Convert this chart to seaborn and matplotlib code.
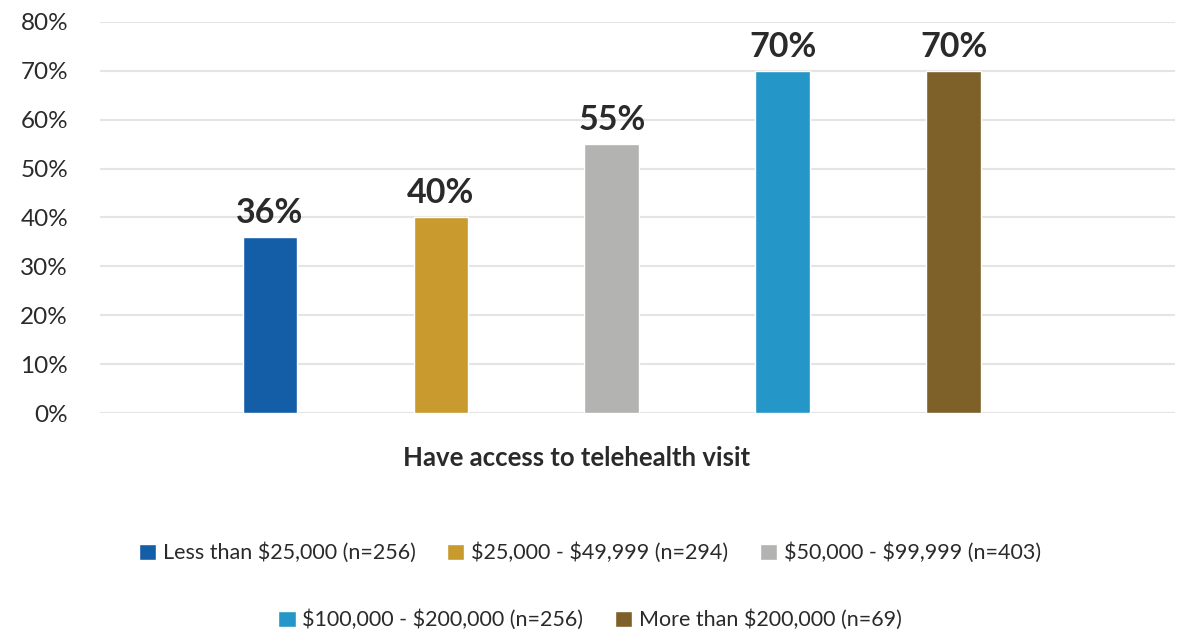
import matplotlib
matplotlib.use("Agg")
import matplotlib.pyplot as plt
import seaborn as sns
import pandas as pd

# Survey data: share of respondents with telehealth access, by household income
measure = ["Have access to telehealth visit"] * 5
income_groups = [
    "Less than $25,000 (n=256)",
    "$25,000 - $49,999 (n=294)",
    "$50,000 - $99,999 (n=403)",
    "$100,000 - $200,000 (n=256)",
    "More than $200,000 (n=69)",
]
shares = [36, 40, 55, 70, 70]
colors = ["#145EA8", "#C99A2E", "#B3B3B2", "#2596C8", "#7E6128"]
y_ticks = [0, 10, 20, 30, 40, 50, 60, 70, 80]

TEXT = "#2a2a2a"

sns.set_theme(style="white")
plt.rcParams["font.family"] = ["Lato", "DejaVu Sans"]
plt.rcParams["text.parse_math"] = False

df = pd.DataFrame({"measure": measure, "group": income_groups, "share": shares})

W, H = 1191, 634
fig = plt.figure(figsize=(W / 100, H / 100), dpi=100)
ax = fig.add_axes([100 / W, 1 - 413 / H, 1075 / W, 391 / H])

sns.barplot(
    data=df, x="measure", y="share", hue="group", hue_order=income_groups,
    palette=dict(zip(income_groups, colors)), width=0.8, gap=0.68,
    saturation=1, errorbar=None, ax=ax, legend=True,
)

# value labels above each bar
for cont in ax.containers:
    ax.bar_label(cont, fmt="%.0f%%", padding=6, fontsize=24.5,
                 fontweight="bold", color=TEXT)

ax.set_ylim(0, 80)
ax.set_xlim(-0.479, 0.527)
ax.set_yticks(y_ticks)
ax.set_yticklabels([f"{t}%" for t in y_ticks], fontsize=17.5, color=TEXT)
ax.tick_params(axis="y", length=0, pad=23)
ax.set_xticks([])
ax.set_xlabel("")
ax.set_ylabel("")
ax.yaxis.grid(True, color="#E4E4E4", linewidth=1.5)
ax.set_axisbelow(True)
for s in ax.spines.values():
    s.set_visible(False)

ax.text(0.443, -45 / 391, measure[0], transform=ax.transAxes,
        ha="center", va="center", fontsize=18.5, fontweight="bold", color=TEXT)

handles, labels = ax.get_legend_handles_labels()
ax.get_legend().remove()

leg_kw = dict(loc="center", frameon=False, fontsize=15.5, labelcolor=TEXT,
              handlelength=0.8, handleheight=0.8, handletextpad=0.32,
              columnspacing=1.45)
fig.legend(handles[:3], labels[:3], ncol=3,
           bbox_to_anchor=(590 / W, 1 - 553 / H), **leg_kw)
fig.legend(handles[3:], labels[3:], ncol=2,
           bbox_to_anchor=(590 / W, 1 - 620 / H), **leg_kw)

fig.savefig("out.png", dpi=100, facecolor="white")
